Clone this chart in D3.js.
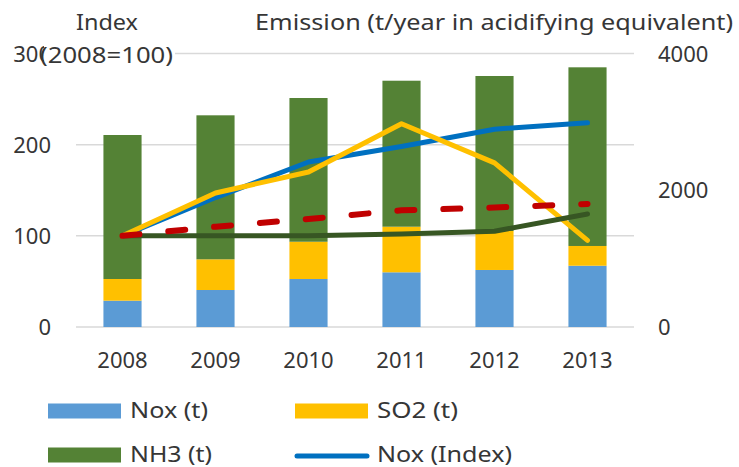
<!DOCTYPE html>
<html>
<head>
<meta charset="utf-8">
<script src="https://cdn.jsdelivr.net/npm/d3@7"></script>
<style>
  html, body { margin: 0; padding: 0; background: #fff; }
  svg { display: block; }
  text { font-family: "Noto Sans", "Open Sans", sans-serif; fill: #363636; }
</style>
</head>
<body>
<svg id="chart" width="739" height="467"></svg>
<script>
// ---- Data ----
const years = ["2008", "2009", "2010", "2011", "2012", "2013"];
const noxTons = [385, 541, 702, 800, 834, 896];
const so2Tons = [317, 449, 545, 667, 570, 289];
const nh3Tons = [2106, 2106, 2102, 2135, 2267, 2613];
const noxIndex = [100, 142, 181, 198, 217, 224];
const so2Index = [100, 147, 170, 223, 180, 95];
const nh3Index = [100, 100, 100, 102, 105, 124];
const totalIndex = [100, 110, 118.5, 128, 131, 135];
const leftTicks = [0, 100, 200, 300];
const rightTicks = [0, 2000, 4000];

const svg = d3.select("#chart");
const plot = { left: 76, right: 634, top: 53.5, bottom: 327 };

const x = d3.scaleBand().domain(years).range([plot.left, plot.right])
  .paddingInner(0.59).paddingOuter(0.295);
const yL = d3.scaleLinear().domain([0, 300]).range([plot.bottom, plot.top]);
const yR = d3.scaleLinear().domain([0, 4000]).range([plot.bottom, plot.top]);
const cx = d => x(d) + x.bandwidth() / 2;

// gridlines
svg.append("g").selectAll("line").data(leftTicks).join("line")
  .attr("x1", plot.left).attr("x2", plot.right)
  .attr("y1", d => yL(d)).attr("y2", d => yL(d))
  .attr("stroke", "#d9d9d9").attr("stroke-width", 1.5);

// stacked bars
const rows = years.map((y, i) => ({ year: y, nox: noxTons[i], so2: so2Tons[i], nh3: nh3Tons[i] }));
const keys = ["nox", "so2", "nh3"];
const barColors = { nox: "#5b9bd5", so2: "#ffc000", nh3: "#548235" };
const stacked = d3.stack().keys(keys)(rows);
svg.append("g").selectAll("g").data(stacked).join("g")
  .attr("fill", d => barColors[d.key])
  .selectAll("rect").data(d => d).join("rect")
  .attr("x", d => x(d.data.year))
  .attr("width", x.bandwidth())
  .attr("y", d => yR(d[1]))
  .attr("height", d => yR(d[0]) - yR(d[1]));

// lines
const lineGen = d3.line().x((d, i) => cx(years[i])).y(d => yL(d));
const lines = [
  { vals: noxIndex, color: "#0070c0", w: 5, dash: null },
  { vals: so2Index, color: "#ffc000", w: 5, dash: null },
  { vals: nh3Index, color: "#375623", w: 5, dash: null },
  { vals: totalIndex, color: "#c00000", w: 6, dash: "17,29" }
];
lines.forEach(l => {
  svg.append("path").datum(l.vals)
    .attr("d", lineGen)
    .attr("fill", "none")
    .attr("stroke", l.color)
    .attr("stroke-width", l.w)
    .attr("stroke-linecap", "round")
    .attr("stroke-linejoin", "round")
    .attr("stroke-dasharray", l.dash);
});

// axis labels
const fs = 22;
svg.append("g").selectAll("text").data(leftTicks).join("text")
  .attr("x", 51).attr("y", d => yL(d) + 8)
  .attr("text-anchor", "end").attr("font-size", fs)
  .text(d => d);
svg.append("g").selectAll("text").data(rightTicks).join("text")
  .attr("x", 658).attr("y", d => yR(d) + 8)
  .attr("text-anchor", "start").attr("font-size", fs)
  .text(d => d);
svg.append("g").selectAll("text").data(years).join("text")
  .attr("x", d => cx(d)).attr("y", 368)
  .attr("text-anchor", "middle").attr("font-size", fs)
  .text(d => d);

// titles
svg.append("rect").attr("x", 44).attr("y", 44).attr("width", 131).attr("height", 20).attr("fill", "#fff");
function fitText(txt, x0, x1, yb, size) {
  svg.append("text").attr("x", x0).attr("y", yb).attr("font-size", size || fs)
    .attr("textLength", x1 - x0).attr("lengthAdjust", "spacingAndGlyphs")
    .text(txt);
}
fitText("Index", 76, 138, 30);
fitText("(2008=100)", 40, 173, 63);
fitText("Emission (t/year in acidifying equivalent)", 255, 733, 30);

// legend
const legendItems = [
  { name: "Nox (t)", type: "rect", color: "#5b9bd5", x: 48, y: 411, tx1: 208 },
  { name: "SO2 (t)", type: "rect", color: "#ffc000", x: 295, y: 411, tx1: 458 },
  { name: "NH3 (t)", type: "rect", color: "#548235", x: 48, y: 455, tx1: 212 },
  { name: "Nox (Index)", type: "line", color: "#0070c0", x: 295, y: 455, tx1: 512 }
];
legendItems.forEach(it => {
  if (it.type === "rect") {
    svg.append("rect").attr("x", it.x).attr("y", it.y - 7.5).attr("width", 73).attr("height", 15).attr("fill", it.color);
  } else {
    svg.append("line").attr("x1", it.x + 2).attr("x2", it.x + 72).attr("y1", it.y + 1).attr("y2", it.y + 1)
      .attr("stroke", it.color).attr("stroke-width", 5).attr("stroke-linecap", "round");
  }
  fitText(it.name, it.x + 82, it.tx1, it.y + 7, 21);
});
</script>
</body>
</html>
